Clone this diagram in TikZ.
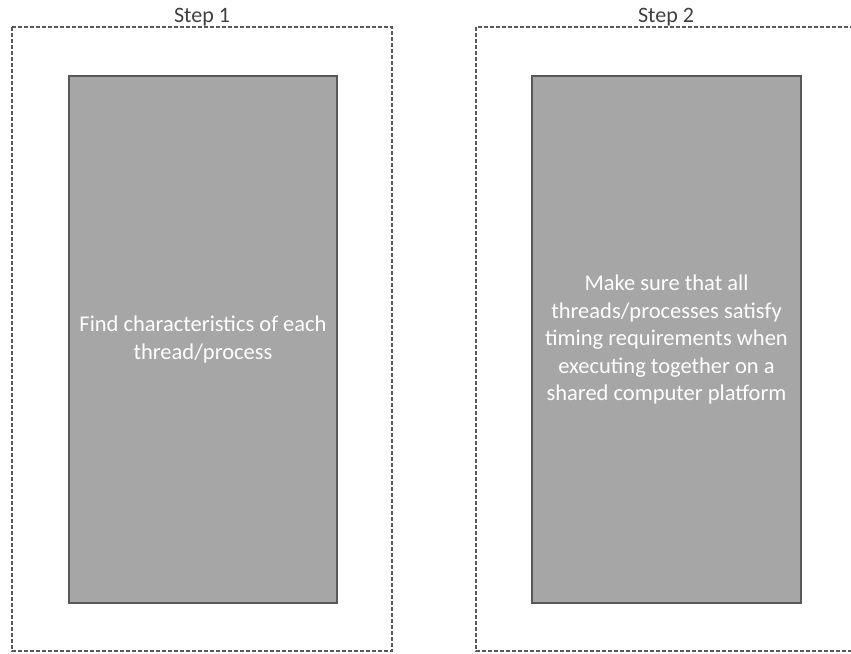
\documentclass[tikz,border=0pt]{standalone}
\usepackage{fontspec}
\setmainfont{Carlito}
\begin{document}
\begin{tikzpicture}[x=1pt,y=-1pt,
  stepframe/.style={draw=black!65, line width=1.3pt, dash pattern=on 4pt off 2pt},
  taskbox/.style={draw=black!65, line width=1.5pt, fill=black!35, text=white,
    align=center, font=\fontsize{22.5}{27.5}\selectfont, inner sep=0pt},
  steplabel/.style={font=\fontsize{22}{26}\selectfont, text=black!75, anchor=base}]
\useasboundingbox (0,0) rectangle (851,653);
% step frames (second one runs past the right edge)
\begin{scope}
\clip (0,0) rectangle (851,653);
\draw[stepframe] (12,27) rectangle (392,651);
\draw[stepframe] (476,27) rectangle (857,651);
\end{scope}
\node[steplabel] (s1) at (202,23) {Step 1};
\node[steplabel] (s2) at (666,23) {Step 2};
% task boxes
\node[taskbox, minimum width=268pt, minimum height=527pt] (t1) at (203,339.5)
  {Find characteristics of each\\thread/process};
\node[taskbox, minimum width=269pt, minimum height=527pt] (t2) at (666.5,339.5)
  {Make sure that all\\threads/processes satisfy\\timing requirements when\\executing together on a\\shared computer platform};
\end{tikzpicture}
\end{document}
